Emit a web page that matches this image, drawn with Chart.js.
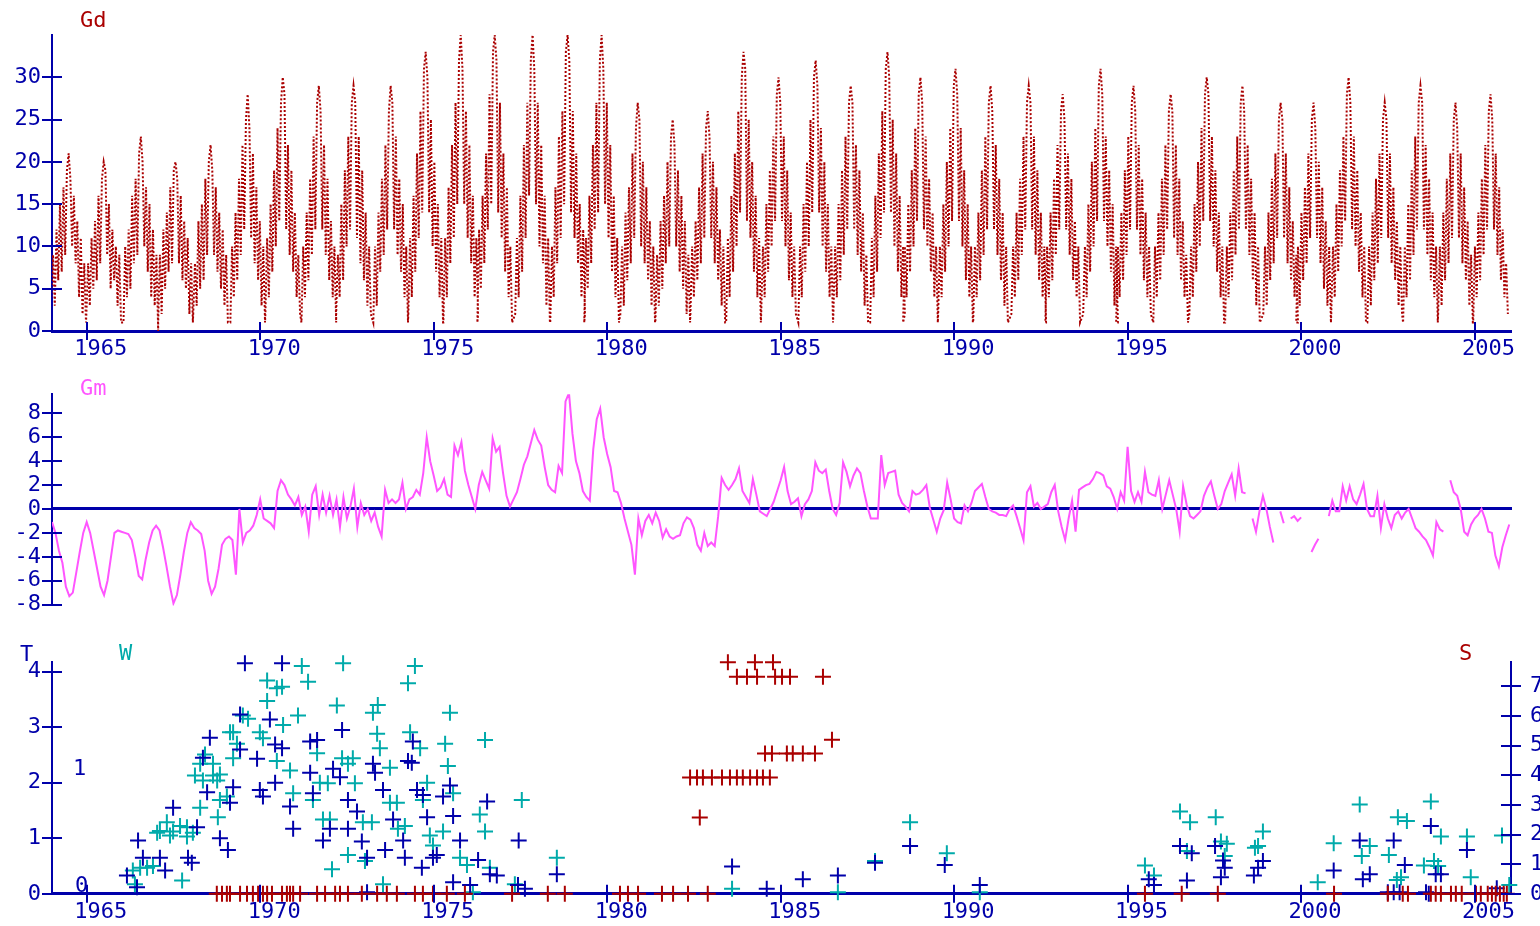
<!DOCTYPE html>
<html>
<head>
<meta charset="utf-8">
<title>Gd / Gm / T W S</title>
<script src="https://cdn.jsdelivr.net/npm/chart.js@4.4.1/dist/chart.umd.min.js"></script>
<style>
  html, body { margin: 0; padding: 0; background: #fff; }
  body { width: 1540px; height: 926px; position: relative; overflow: hidden; }
  canvas { position: absolute; left: 0; }
</style>
</head>
<body>
<canvas id="gdChart" width="1540" height="370" style="top:0"></canvas>
<canvas id="gmChart" width="1540" height="260" style="top:370px"></canvas>
<canvas id="twsChart" width="1540" height="296" style="top:630px"></canvas>
<script>
// tick labels
const yearTicks = [1965, 1970, 1975, 1980, 1985, 1990, 1995, 2000, 2005];
const gdTicks = [0, 5, 10, 15, 20, 25, 30];
const gmTicks = [-8, -6, -4, -2, 0, 2, 4, 6, 8];
const tTicks = [0, 1, 2, 3, 4];
const sTicks = [0, 1, 2, 3, 4, 5, 6, 7];

// Gd: one row per yearly wave, centred on the peak year
const gdPeakYears = [1964.48, 1965.49, 1966.56, 1967.56, 1968.57, 1969.64, 1970.65, 1971.69, 1972.69, 1973.76,
  1974.77, 1975.78, 1976.76, 1977.85, 1978.86, 1979.84, 1980.88, 1981.89, 1982.90, 1983.93,
  1984.94, 1986.01, 1987.02, 1988.08, 1989.03, 1990.04, 1991.05, 1992.15, 1993.13, 1994.22,
  1995.17, 1996.24, 1997.28, 1998.31, 1999.41, 2000.36, 2001.37, 2002.41, 2003.44, 2004.45, 2005.46];
const gdStep = 0.05;
const gdCycles = [
  [4, 9, 3, 12, 6, 15, 7, 17, 9, 19, 21, 18, 10, 16, 8, 13, 4, 11, 2, 8, 1],
  [2, 8, 3, 11, 5, 13, 6, 16, 8, 18, 20, 19, 9, 15, 5, 12, 6, 10, 3, 9, 1],
  [1, 10, 4, 12, 5, 16, 8, 18, 9, 21, 23, 20, 10, 17, 7, 15, 4, 12, 3, 9, 0],
  [1, 9, 2, 12, 5, 14, 7, 17, 8, 19, 20, 18, 8, 16, 6, 13, 5, 11, 2, 8, 1],
  [2, 8, 3, 13, 5, 15, 6, 18, 9, 20, 22, 19, 9, 17, 7, 14, 5, 12, 3, 9, 1],
  [1, 10, 4, 14, 6, 18, 9, 22, 12, 25, 28, 24, 11, 21, 8, 17, 6, 13, 3, 10, 1],
  [2, 11, 4, 15, 7, 19, 10, 24, 13, 27, 30, 28, 12, 22, 9, 19, 7, 14, 4, 9, 2],
  [1, 10, 4, 14, 6, 18, 9, 23, 12, 27, 29, 26, 12, 22, 9, 18, 6, 13, 4, 10, 1],
  [2, 9, 4, 15, 6, 19, 10, 23, 12, 27, 29, 27, 11, 23, 8, 19, 6, 14, 3, 10, 2],
  [1, 10, 3, 14, 7, 18, 9, 22, 12, 26, 29, 27, 12, 23, 9, 18, 7, 15, 4, 10, 1],
  [2, 11, 4, 16, 7, 21, 11, 26, 14, 31, 33, 30, 14, 25, 10, 20, 7, 15, 4, 11, 1],
  [1, 11, 4, 17, 8, 22, 11, 27, 15, 32, 35, 31, 15, 26, 11, 22, 8, 16, 4, 11, 2],
  [1, 12, 5, 16, 8, 21, 12, 28, 15, 33, 35, 32, 14, 27, 11, 21, 7, 17, 4, 10, 1],
  [2, 11, 4, 16, 7, 22, 11, 27, 16, 32, 35, 31, 15, 27, 10, 22, 8, 16, 3, 11, 1],
  [1, 10, 4, 17, 8, 23, 11, 26, 15, 33, 35, 32, 14, 26, 11, 21, 8, 15, 4, 12, 2],
  [1, 11, 5, 16, 8, 22, 12, 27, 14, 32, 35, 31, 15, 27, 11, 22, 7, 16, 4, 11, 1],
  [2, 10, 3, 14, 6, 17, 8, 21, 11, 24, 27, 25, 10, 20, 8, 17, 6, 13, 3, 10, 1],
  [1, 9, 3, 13, 5, 16, 8, 20, 10, 23, 25, 22, 10, 19, 7, 16, 5, 13, 2, 9, 1],
  [2, 10, 4, 13, 6, 17, 8, 21, 11, 24, 26, 23, 11, 20, 8, 17, 6, 12, 3, 10, 1],
  [1, 11, 4, 16, 7, 21, 10, 26, 14, 30, 33, 31, 13, 25, 11, 20, 7, 16, 4, 11, 1],
  [2, 10, 4, 15, 7, 19, 10, 23, 13, 28, 30, 27, 13, 23, 10, 19, 6, 14, 4, 10, 2],
  [1, 10, 4, 15, 7, 20, 10, 25, 14, 30, 32, 29, 14, 24, 10, 20, 7, 15, 4, 10, 1],
  [2, 10, 4, 15, 6, 19, 9, 23, 12, 27, 29, 27, 12, 22, 9, 19, 7, 14, 3, 9, 1],
  [1, 11, 4, 16, 7, 21, 11, 26, 14, 31, 33, 30, 14, 25, 10, 21, 7, 16, 4, 10, 2],
  [1, 10, 4, 15, 7, 19, 10, 24, 13, 28, 30, 27, 12, 23, 10, 18, 7, 14, 4, 10, 1],
  [2, 10, 4, 15, 7, 20, 10, 24, 13, 29, 31, 28, 13, 24, 10, 19, 6, 15, 4, 10, 1],
  [1, 10, 4, 14, 6, 19, 9, 23, 12, 27, 29, 26, 12, 22, 9, 18, 6, 14, 3, 10, 1],
  [2, 10, 4, 14, 6, 18, 9, 23, 12, 27, 29, 27, 12, 23, 9, 19, 6, 14, 4, 10, 1],
  [1, 10, 4, 14, 6, 18, 9, 22, 12, 26, 28, 25, 12, 21, 9, 18, 6, 13, 4, 10, 1],
  [2, 10, 4, 15, 7, 20, 10, 24, 13, 29, 31, 28, 13, 23, 10, 19, 7, 15, 3, 10, 1],
  [1, 10, 4, 14, 6, 19, 9, 23, 12, 27, 29, 26, 12, 22, 9, 18, 6, 14, 4, 10, 2],
  [1, 10, 4, 14, 6, 18, 9, 22, 12, 26, 28, 26, 11, 22, 9, 18, 6, 13, 4, 9, 1],
  [2, 10, 4, 15, 7, 20, 10, 24, 13, 28, 30, 28, 13, 23, 10, 19, 7, 14, 4, 10, 1],
  [1, 10, 4, 14, 6, 19, 9, 23, 12, 27, 29, 26, 12, 22, 9, 18, 6, 14, 3, 10, 1],
  [2, 10, 3, 14, 6, 18, 8, 21, 11, 25, 27, 25, 11, 21, 8, 17, 6, 13, 4, 9, 1],
  [1, 10, 3, 14, 6, 17, 8, 21, 11, 25, 27, 24, 11, 20, 8, 17, 5, 13, 3, 10, 1],
  [2, 10, 4, 15, 7, 19, 10, 23, 13, 28, 30, 27, 12, 23, 10, 19, 7, 14, 4, 10, 1],
  [1, 10, 3, 14, 6, 18, 8, 21, 11, 25, 27, 25, 11, 21, 8, 17, 6, 13, 3, 10, 2],
  [1, 10, 4, 15, 6, 19, 9, 23, 12, 27, 29, 27, 12, 22, 9, 18, 6, 14, 4, 10, 1],
  [2, 10, 3, 14, 6, 18, 8, 21, 11, 25, 27, 24, 11, 21, 8, 17, 6, 13, 3, 9, 1],
  [1, 10, 4, 14, 6, 18, 9, 22, 12, 26, 28, 25, 12, 21, 9, 17, 6, 12, 4, 8, 2]
];

// Gm: values every 0.1 year from 1964.0 (null = gap in the trace)
const gmStart = 1964.0, gmStep = 0.1;
const gm1964 = [
  -1.1, -2.0, -3.5, -4.5, -6.5, -7.3, -7.0, -5.3, -3.6, -2.0,
  -1.1, -2.0, -3.5, -5.0, -6.5, -7.2, -6.0, -4.0, -2.0, -1.8,
  -1.9, -2.0, -2.1, -2.6, -4.0, -5.6, -5.9, -4.2, -2.8, -1.8,
  -1.4, -1.8, -3.2, -4.8, -6.5, -7.9, -7.2, -5.5, -3.6, -2.0,
  -1.1, -1.6, -1.8, -2.1, -3.5, -6.0, -7.1, -6.5, -5.0, -3.0,
  -2.5, -2.3, -2.6, -5.5, 0.0, -2.8, -2.0, -1.8, -1.4, -0.5,
  0.8, -0.8, -1.0, -1.2, -1.6, 1.5, 2.4, 2.0, 1.2, 0.8,
  0.3, 1.0, -0.5, 0.2, -1.9, 1.2, 1.9, -0.5, 1.2, -0.3,
  1.1, -0.5, 0.8, -1.5, 1.0, -0.8, 0.2, 1.7, -1.5, 0.5,
  -0.5, 0.0, -1.0, -0.3, -1.5, -2.3, 1.6, 0.5, 0.8, 0.5
];
const gm1974 = [
  0.8, 2.2, 0.0, 0.8, 1.0, 1.6, 1.2, 3.0, 6.0, 4.0,
  2.8, 1.5, 1.8, 2.5, 1.2, 1.0, 5.3, 4.5, 5.6, 3.2,
  2.0, 1.0, 0.0, 2.0, 3.1, 2.4, 1.7, 5.9, 4.8, 5.2,
  3.0, 1.1, 0.2, 0.8, 1.4, 2.5, 3.7, 4.4, 5.5, 6.6,
  5.8, 5.3, 3.5, 2.0, 1.6, 1.4, 3.6, 3.0, 9.0, 9.7,
  6.3, 4.0, 3.0, 1.5, 1.0, 0.7, 5.0, 7.5, 8.4, 6.0,
  4.6, 3.5, 1.5, 1.4, 0.5, -0.8, -1.9, -3.0, -5.5, -0.8,
  -2.2, -1.0, -0.5, -1.2, -0.3, -1.0, -2.4, -1.7, -2.3, -2.5,
  -2.3, -2.2, -1.2, -0.7, -0.9, -1.6, -3.0, -3.5, -2.0, -3.1,
  -2.8, -3.1, -0.6, 2.6, 2.0, 1.6, 2.0, 2.5, 3.4, 1.5
];
const gm1984 = [
  1.0, 0.5, 2.5, 1.2, -0.2, -0.4, -0.6, 0.0, 0.6, 1.5,
  2.4, 3.5, 1.5, 0.4, 0.6, 0.9, -0.6, 0.4, 0.8, 1.5,
  3.9, 3.2, 3.0, 3.3, 1.5, 0.0, -0.5, 0.5, 3.9, 3.1,
  1.9, 2.8, 3.4, 3.0, 1.5, 0.2, -0.8, -0.8, -0.8, 4.5,
  2.0, 3.0, 3.1, 3.2, 1.2, 0.5, 0.2, -0.2, 1.5, 1.2,
  1.3, 1.6, 2.0, 0.1, -0.9, -1.9, -0.8, -0.1, 2.2, 0.8,
  -0.8, -1.1, -1.2, 0.3, -0.2, 0.5, 1.5, 1.8, 2.1, 1.0,
  0.0, -0.2, -0.3, -0.5, -0.5, -0.6, 0.0, 0.3, -0.6, -1.6,
  -2.6, 1.4, 1.9, 0.2, 0.5, 0.0, 0.2, 0.4, 1.4, 2.0,
  -0.2, -1.5, -2.6, -0.8, 0.7, -1.9, 1.6, 1.8, 2.0, 2.1
];
const gm1994 = [
  2.5, 3.1, 3.0, 2.8, 1.9, 1.7, 1.0, 0.0, 1.4, 0.7,
  5.2, 1.5, 0.6, 1.4, 0.6, 3.1, 1.4, 1.2, 1.1, 2.4,
  0.0, 1.2, 2.4, 1.2, 0.0, -1.9, 1.9, 0.4, -0.6, -0.8,
  -0.5, -0.2, 1.1, 1.8, 2.3, 1.1, 0.0, 0.4, 1.5, 2.2,
  2.9, 1.1, 3.4, 1.4, 1.3, null, -0.8, -1.9, -0.2, 1.1,
  0.0, -1.5, -2.8, null, -0.2, -1.2, null, -0.8, -0.6, -1.0,
  -0.7, null, null, -3.6, -3.0, -2.5, null, null, -0.6, 0.7,
  -0.2, -0.2, 1.9, 0.7, 1.9, 0.8, 0.4, 1.2, 2.1, 0.0,
  -0.6, -0.6, 1.1, -1.6, 0.4, -0.8, -1.6, -0.5, -0.2, -0.8,
  -0.3, 0.0, -0.8, -1.6, -1.9, -2.3, -2.6, -3.2, -3.9, -1.1,
  -1.7, -1.9, null, 2.4, 1.4, 1.1, 0.0, -1.9, -2.2, -1.3,
  -0.8, -0.5, 0.0, -0.8, -1.9, -2.0, -3.9, -4.8, -3.2, -2.2,
  -1.3
];

// W (cyan crosses, left axis)
const wYears = [1971.20, 1972.39, 1974.46, 1974.26, 1971.38, 1970.20, 1970.48, 1970.20, 1970.63, 1972.21,
  1973.25, 1973.39, 1975.47, 1976.48, 1971.09, 1970.66, 1969.50, 1969.65, 1969.22, 1969.13,
  1969.99, 1970.08, 1969.33, 1969.22, 1968.41, 1968.27, 1968.64, 1968.12, 1968.64, 1968.84,
  1968.35, 1968.76, 1969.04, 1968.84, 1968.27, 1968.78, 1967.89, 1967.69, 1967.49, 1967.31,
  1967.11, 1967.03, 1967.40, 1967.89, 1968.06, 1966.33, 1966.54, 1966.74, 1966.91, 1966.39,
  1967.75, 1970.48, 1970.86, 1970.95, 1971.52, 1971.64, 1971.72, 1971.95, 1971.81, 1972.01,
  1972.36, 1972.53, 1972.67, 1972.73, 1972.96, 1973.22, 1973.37, 1973.45, 1973.74, 1973.74,
  1973.94, 1973.97, 1974.17, 1974.32, 1974.61, 1974.81, 1974.69, 1974.89, 1975.27, 1975.41,
  1975.56, 1975.33, 1974.98, 1972.53, 1973.02, 1972.07, 1973.54, 1975.76, 1975.96, 1976.33,
  1976.48, 1976.62, 1977.34, 1976.13, 1977.54, 1978.55, 1983.60, 1988.73, 1987.72, 1989.79,
  1990.74, 1986.65, 1995.50, 1995.76, 1996.51, 1996.80, 1996.71, 1997.54, 1997.69, 1997.86,
  1997.80, 1998.76, 1998.90, 1998.67, 2000.48, 2000.94, 2001.69, 2001.98, 2001.75, 2002.53,
  2002.79, 2003.05, 2002.88, 2002.76, 2003.74, 2004.03, 2003.54, 2003.83, 2003.95, 2004.78,
  2004.89, 2005.79, 2006.00];
const wValues = [4.1, 4.15, 4.1, 3.79, 3.82, 3.84, 3.7, 3.47, 3.73, 3.39,
  3.26, 3.4, 3.26, 2.77, 3.21, 3.04, 3.21, 3.15, 2.91, 2.91,
  2.91, 2.8, 2.7, 2.44, 2.51, 2.34, 2.34, 2.13, 2.13, 2.15,
  2.04, 2.04, 1.75, 1.69, 1.55, 1.38, 1.2, 1.22, 1.12, 1.29,
  1.13, 1.1, 1.05, 1.03, 1.1, 0.42, 0.47, 0.47, 0.5, 0.17,
  0.24, 2.39, 2.22, 1.81, 1.69, 2.53, 2.0, 1.99, 1.34, 1.34,
  2.44, 2.34, 2.44, 1.99, 1.29, 1.29, 2.88, 2.62, 2.27, 1.64,
  1.64, 1.17, 1.22, 2.91, 2.62, 2.0, 1.69, 1.05, 1.12, 2.3,
  1.81, 2.7, 0.87, 0.7, 0.59, 0.44, 0.17, 0.65, 0.52, 1.43,
  1.12, 0.47, 0.17, 0.03, 1.69, 0.65, 0.09, 1.29, 0.59, 0.73,
  0.03, 0.03, 0.51, 0.33, 1.48, 1.29, 0.77, 1.38, 0.94, 0.9,
  0.68, 0.86, 1.12, 0.83, 0.21, 0.91, 1.61, 0.86, 0.68, 0.7,
  1.38, 1.31, 0.3, 0.25, 1.66, 1.03, 0.51, 0.59, 0.5, 1.03,
  0.3, 1.05, 0.16];

// T (blue crosses, left axis)
const tYears = [1969.56, 1970.63, 1968.55, 1969.42, 1970.28, 1969.42, 1969.91, 1970.43, 1970.63, 1971.44,
  1971.64, 1972.36, 1968.35, 1968.47, 1969.13, 1969.22, 1969.99, 1970.08, 1970.43, 1970.86,
  1970.95, 1971.44, 1971.52, 1972.10, 1972.30, 1972.53, 1972.79, 1973.25, 1973.31, 1973.54,
  1973.83, 1974.26, 1974.40, 1974.37, 1974.52, 1974.69, 1975.27, 1975.47, 1975.56, 1974.81,
  1976.54, 1977.45, 1971.81, 1972.01, 1972.53, 1972.93, 1973.08, 1973.60, 1974.12, 1974.17,
  1974.66, 1974.98, 1975.09, 1975.76, 1976.28, 1976.62, 1976.82, 1975.56, 1976.05, 1973.08,
  1966.48, 1967.49, 1968.18, 1968.03, 1967.92, 1968.84, 1969.07, 1966.62, 1967.11, 1967.26,
  1966.16, 1966.45, 1978.55, 1977.43, 1977.63, 1983.60, 1984.60, 1985.64, 1986.65, 1987.72,
  1988.73, 1989.73, 1990.74, 1995.61, 1995.76, 1996.51, 1996.85, 1996.71, 1997.52, 1997.80,
  1997.69, 1997.75, 1998.64, 1998.76, 1998.90, 2000.94, 2001.69, 2001.78, 2001.98, 2002.67,
  2002.99, 2002.50, 2002.67, 2002.84, 2003.74, 2003.88, 2004.03, 2003.60, 2003.68, 2004.78,
  2005.64];
const tValues = [4.15, 4.15, 2.81, 3.23, 3.14, 2.6, 2.43, 2.69, 2.62, 2.74,
  2.77, 2.95, 2.45, 1.83, 1.64, 1.92, 1.87, 1.75, 2.0, 1.57,
  1.17, 2.18, 1.81, 2.25, 2.1, 1.69, 1.48, 2.34, 2.18, 1.87,
  1.34, 2.39, 2.74, 2.36, 1.87, 1.78, 1.75, 1.95, 1.4, 1.38,
  1.66, 0.96, 0.96, 1.17, 1.17, 0.94, 0.65, 0.79, 0.96, 0.65,
  0.47, 0.65, 0.7, 0.96, 0.61, 0.35, 0.33, 0.21, 0.16, 0.03,
  0.96, 1.55, 1.2, 0.56, 0.65, 1.0, 0.79, 0.65, 0.65, 0.42,
  0.33, 0.12, 0.35, 0.16, 0.09, 0.49, 0.09, 0.26, 0.33, 0.56,
  0.86, 0.52, 0.16, 0.26, 0.16, 0.86, 0.73, 0.24, 0.86, 0.47,
  0.3, 0.6, 0.33, 0.47, 0.59, 0.42, 0.96, 0.26, 0.35, 0.96,
  0.52, 0.03, 0.03, 0.03, 1.22, 0.35, 0.35, 0.03, 0.0, 0.79,
  0.1];

// S (red crosses, right axis)
const sYears = [1983.48, 1984.26, 1984.78,
  1983.74, 1984.03, 1984.32, 1984.84, 1985.04, 1985.27, 1986.22,
  1984.55, 1984.75, 1985.18, 1985.35, 1985.64, 1985.99, 1986.48,
  1982.39, 1982.59, 1982.76, 1983.02, 1983.31, 1983.54, 1983.74, 1983.91, 1984.12, 1984.32, 1984.49, 1984.69,
  1982.67];
const sValues = [7.82, 7.82, 7.82,
  7.33, 7.33, 7.33, 7.33, 7.33, 7.33, 7.33,
  4.74, 4.74, 4.74, 4.74, 4.74, 4.74, 5.2,
  3.93, 3.93, 3.93, 3.93, 3.93, 3.93, 3.93, 3.93, 3.93, 3.93, 3.93, 3.93,
  2.58];
// S marks sitting on the zero line
const sZeroYears = [1968.75, 1968.90, 1969.04, 1969.13, 1969.42, 1969.62, 1969.79, 1969.94, 1970.08, 1970.20,
  1970.34, 1970.63, 1970.77, 1970.86, 1970.95, 1971.15, 1971.64, 1971.87, 1972.16, 1972.30,
  1972.53, 1972.93, 1973.37, 1973.65, 1973.94, 1974.46, 1974.69, 1974.98, 1975.38, 1975.90,
  1977.26, 1978.29, 1978.78, 1980.37, 1980.60, 1980.89, 1981.58, 1981.90, 1982.33, 1982.90,
  1995.50, 1996.56, 1997.60, 2000.95, 2002.50, 2002.93, 2003.08, 2003.74, 2003.88, 2004.03,
  2004.32, 2004.46, 2004.63, 2005.04, 2005.18, 2005.38, 2005.50, 2005.61, 2005.73, 2005.84, 2005.93];

const AXIS = '#0000aa', RED = '#aa0000', TEAL = '#00aaaa', MAGENTA = '#ff55ff';
const FONT = { family: "'DejaVu Sans Mono', monospace", size: 22 };
const X_MIN = 1964.0, X_MAX = 2006.05;

// tick marks that cross the axis line, like the original plot
const crossTicks = {
  id: 'crossTicks',
  afterDraw(chart) {
    const ctx = chart.ctx;
    ctx.save();
    ctx.strokeStyle = AXIS;
    ctx.lineWidth = 2;
    Object.values(chart.scales).forEach(s => {
      const len = s.options.crossTick;
      if (!len) return;
      s.ticks.forEach(t => {
        const p = Math.round(s.getPixelForValue(t.value));
        ctx.beginPath();
        if (s.isHorizontal()) {
          ctx.moveTo(p, s.top - len); ctx.lineTo(p, s.top + len);
        } else {
          const x = s.position === 'right' ? s.left : s.right;
          ctx.moveTo(x - len, p); ctx.lineTo(x + len, p);
        }
        ctx.stroke();
      });
    });
    ctx.restore();
  }
};

function textMarks(items) {
  return {
    id: 'textMarks',
    afterDraw(chart) {
      const ctx = chart.ctx;
      ctx.save();
      ctx.font = `${FONT.size}px ${FONT.family}`;
      ctx.textBaseline = 'top';
      items.forEach(it => { ctx.fillStyle = it.color; ctx.fillText(it.text, it.x, it.y); });
      ctx.restore();
    }
  };
}

function yearAxis(height) {
  return {
    type: 'linear', min: X_MIN, max: X_MAX,
    afterBuildTicks: s => { s.ticks = yearTicks.map(v => ({ value: v })); },
    afterFit: s => { s.height = height; },
    grid: { display: false, drawTicks: false },
    border: { display: true, color: AXIS, width: 3 },
    ticks: { color: AXIS, font: FONT, padding: 5, labelOffset: 14, maxRotation: 0, autoSkip: false,
      callback: v => String(v) },
    crossTick: 9
  };
}

function valueAxis(position, min, max, tickValues, width, padding) {
  return {
    type: 'linear', position, min, max,
    afterBuildTicks: s => { s.ticks = tickValues.map(v => ({ value: v })); },
    afterFit: s => { s.width = width; },
    grid: { display: false, drawTicks: false },
    border: { display: true, color: AXIS, width: 2 },
    ticks: { color: AXIS, font: FONT, padding, autoSkip: false, callback: v => String(v) },
    crossTick: 10
  };
}

const baseOptions = {
  responsive: false,
  animation: false,
  plugins: { legend: { display: false }, tooltip: { enabled: false } }
};

// Gd panel
const gdPoints = [];
gdPeakYears.forEach((peak, i) => {
  const row = gdCycles[i];
  const start = peak - gdStep * (row.length - 1) / 2;
  row.forEach((v, j) => gdPoints.push({ x: start + j * gdStep, y: v }));
});

new Chart(document.getElementById('gdChart'), {
  type: 'scatter',
  data: { datasets: [{
    label: 'Gd', data: gdPoints, showLine: true,
    borderColor: RED, borderWidth: 2, borderDash: [2, 2], pointRadius: 0
  }] },
  options: {
    ...baseOptions,
    layout: { padding: { left: 0, right: 29, top: 35, bottom: 0 }, autoPadding: false },
    scales: { x: yearAxis(39), y: valueAxis('left', 0, 35, gdTicks, 52, 11) }
  },
  plugins: [crossTicks, textMarks([{ text: 'Gd', x: 80, y: 10, color: RED }])]
});

// Gm panel
const gmValues = gm1964.concat(gm1974, gm1984, gm1994);
const gmPoints = gmValues.map((v, i) => ({ x: gmStart + i * gmStep, y: v }));

new Chart(document.getElementById('gmChart'), {
  type: 'scatter',
  data: { datasets: [{
    label: 'Gm', data: gmPoints, showLine: true, spanGaps: false,
    borderColor: MAGENTA, borderWidth: 2, pointRadius: 0
  }] },
  options: {
    ...baseOptions,
    layout: { padding: { left: 0, right: 29, top: 22, bottom: 2 }, autoPadding: false },
    scales: {
      x: {
        type: 'linear', min: X_MIN, max: X_MAX, position: { y: 0 },
        grid: { display: false, drawTicks: false },
        ticks: { display: false },
        border: { display: true, color: AXIS, width: 3 }
      },
      y: valueAxis('left', -8.1, 9.6, gmTicks, 52, 11)
    }
  },
  plugins: [crossTicks, textMarks([{ text: 'Gm', x: 80, y: 8, color: MAGENTA }])]
});

// T / W / S panel
const crossStyle = { pointStyle: 'cross', pointRadius: 8, pointBorderWidth: 2, showLine: false, clip: false };
new Chart(document.getElementById('twsChart'), {
  type: 'scatter',
  data: { datasets: [
    { label: 'W', data: wYears.map((x, i) => ({ x, y: wValues[i] })), yAxisID: 'y',
      borderColor: TEAL, backgroundColor: TEAL, order: 3, ...crossStyle },
    { label: 'T', data: tYears.map((x, i) => ({ x, y: tValues[i] })), yAxisID: 'y',
      borderColor: AXIS, backgroundColor: AXIS, order: 2, ...crossStyle },
    { label: 'S', data: sYears.map((x, i) => ({ x, y: sValues[i] })).concat(sZeroYears.map(x => ({ x, y: 0 }))),
      yAxisID: 'y1', borderColor: RED, backgroundColor: RED, order: 1, ...crossStyle }
  ] },
  options: {
    ...baseOptions,
    layout: { padding: { left: 0, right: 0, top: 28, bottom: 0 }, autoPadding: false },
    scales: {
      x: yearAxis(29),
      y: valueAxis('left', 0, 4.17, tTicks, 52, 11),
      y1: valueAxis('right', 0, 7.82, sTicks, 29, 19)
    }
  },
  plugins: [crossTicks, textMarks([
    { text: 'T', x: 20, y: 14, color: AXIS },
    { text: 'W', x: 119, y: 13, color: TEAL },
    { text: 'S', x: 1459, y: 13, color: RED },
    { text: '1', x: 73, y: 128, color: AXIS },
    { text: '0', x: 75, y: 245, color: AXIS }
  ])]
});
</script>
</body>
</html>
